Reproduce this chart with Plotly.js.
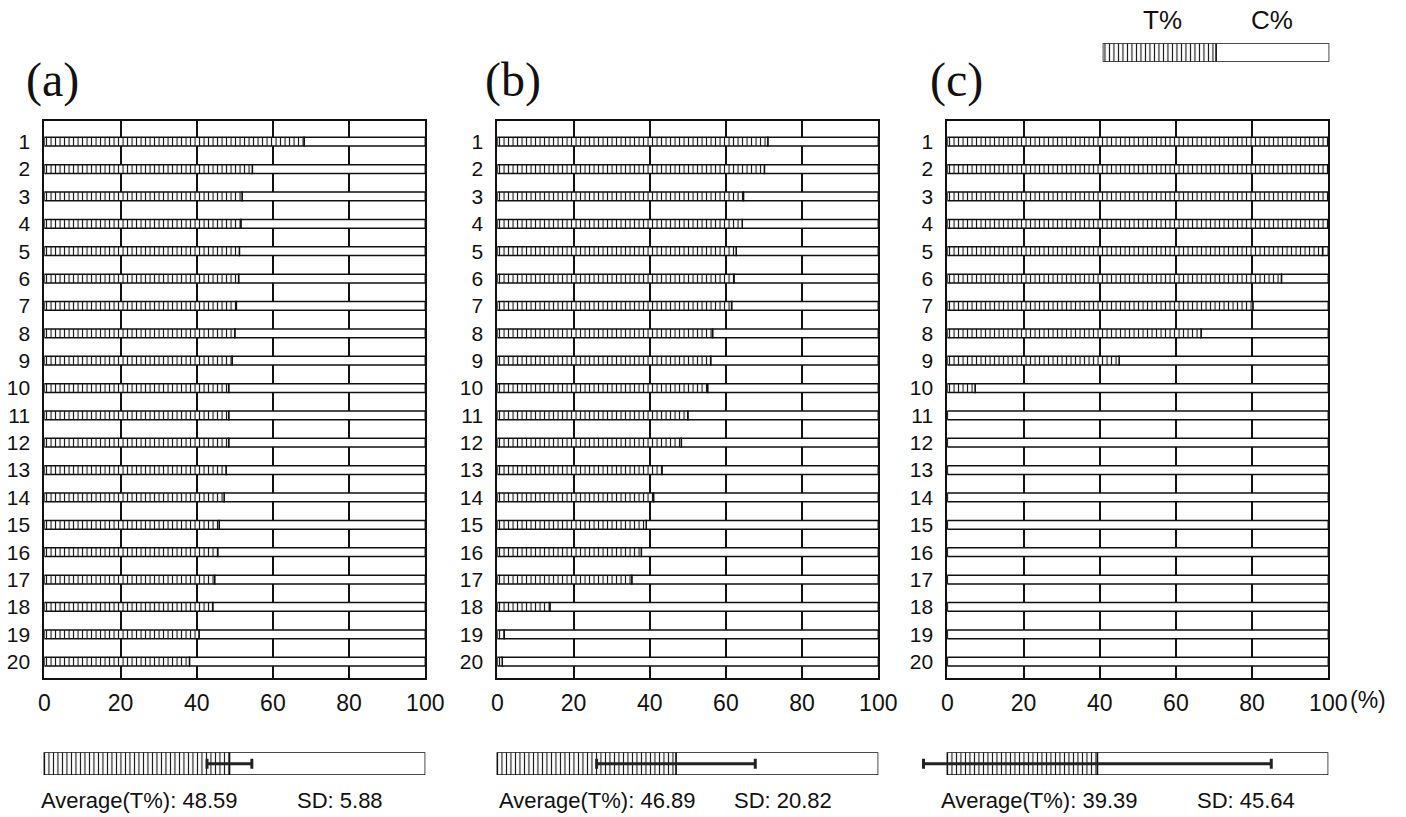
<!DOCTYPE html>
<html>
<head>
<meta charset="utf-8">
<script src="https://cdn.plot.ly/plotly-3.0.1.min.js"></script>
<style>
  html, body { margin: 0; padding: 0; background: #fff; }
  #chart { width: 1406px; height: 817px; }
</style>
</head>
<body>
<div id="chart"></div>
<script>
// ---------------- data ----------------
const rowNumbers = [1,2,3,4,5,6,7,8,9,10,11,12,13,14,15,16,17,18,19,20];
const tPctA = [68.2,54.6,51.9,51.6,51.2,51.0,50.4,50.0,49.3,48.4,48.4,48.4,47.7,47.2,45.9,45.5,44.7,44.2,40.6,38.1];
const tPctB = [71.0,70.1,64.6,64.3,62.7,62.1,61.5,56.5,56.0,55.2,50.0,48.3,43.2,41.0,39.1,37.8,35.3,13.8,1.8,1.3];
const tPctC = [100,100,100,100,98.5,87.7,80.2,66.6,45.1,7.3,0,0,0,0,0,0,0,0,0,0];
const averageT = [48.59, 46.89, 39.39];
const sdT = [5.88, 20.82, 45.64];
const panelLabels = ['(a)', '(b)', '(c)'];
const xTickVals = [0, 20, 40, 60, 80, 100];
const xTickText = ['0', '20', '40', '60', '80', '100'];
const unitLabel = '(%)';
const legendLabels = ['T%', 'C%'];
const legendShare = [50, 50];

// ---------------- layout helpers ----------------
const W = 1406, H = 817;
const px = v => v / W;
const py = v => 1 - v / H;
const panelX0 = [44.3, 497.3, 947.3];   // pixel of 0%
const panelSpan = 381;                   // pixels per 100%
const titleCenters = [52, 513, 956];
const avgTextX = [39, 497, 939];
const sdTextX = [295, 732, 1195];
const plotTop = 121, plotBottom = 678.3;
const sumTop = 752.3, sumBottom = 775;
const sumExtra = 10;                     // extra units left of 0 in summary axes

const tSeries = [tPctA, tPctB, tPctC];
const cSeries = tSeries.map(arr => arr.map(v => 100 - v));

const pattern = {shape: '|', size: 4.5, solidity: 0.25, fgcolor: '#111', bgcolor: '#fff'};
const outline = {color: '#111', width: 1.5};
const font = 'Liberation Sans, Arial, sans-serif';

const traces = [];
const layout = {
  width: W, height: H,
  margin: {l: 0, r: 0, t: 0, b: 0},
  paper_bgcolor: '#fff', plot_bgcolor: 'rgba(0,0,0,0)',
  barmode: 'overlay',
  showlegend: false,
  font: {family: font, color: '#111'},
  annotations: []
};

for (let p = 0; p < 3; p++) {
  const ax = p + 1;
  const xk = ax === 1 ? 'x' : 'x' + ax;
  const yk = ax === 1 ? 'y' : 'y' + ax;
  // C% part (remainder)
  traces.push({
    type: 'bar', orientation: 'h', xaxis: xk, yaxis: yk,
    y: rowNumbers, x: cSeries[p], base: tSeries[p], width: 0.32,
    marker: {color: '#fff', line: outline}
  });
  // T% part
  traces.push({
    type: 'bar', orientation: 'h', xaxis: xk, yaxis: yk,
    y: rowNumbers, x: tSeries[p], base: 0, width: 0.32,
    marker: {color: '#fff', pattern: pattern, line: outline}
  });
  layout['xaxis' + (ax === 1 ? '' : ax)] = {
    domain: [px(panelX0[p]), px(panelX0[p] + panelSpan)],
    range: [0, 100], anchor: yk,
    tickmode: 'array', tickvals: xTickVals, ticktext: xTickText,
    showgrid: true, gridcolor: '#111', gridwidth: 2,
    showline: true, linecolor: '#111', linewidth: 2, mirror: true,
    zeroline: false, ticks: '', ticklabelstandoff: 3,
    tickfont: {size: 23, family: font, color: '#111'}
  };
  layout['yaxis' + (ax === 1 ? '' : ax)] = {
    domain: [py(plotBottom), py(plotTop)],
    range: [20.607, 0.244], anchor: xk,
    tickmode: 'array', tickvals: rowNumbers, ticktext: rowNumbers.map(String),
    showgrid: false, zeroline: false,
    showline: true, linecolor: '#111', linewidth: 2, mirror: true,
    ticks: '', ticklabelstandoff: 8,
    tickfont: {size: 21, family: font, color: '#111'}
  };
  layout.annotations.push({
    xref: 'paper', yref: 'paper', x: px(titleCenters[p]), y: py(80),
    xanchor: 'center', yanchor: 'middle', showarrow: false,
    text: panelLabels[p], font: {family: 'Liberation Serif, Times New Roman, serif', size: 48, color: '#111'}
  });

  // summary bar
  const sx = 'x' + (ax + 3), sy = 'y' + (ax + 3);
  traces.push({
    type: 'bar', orientation: 'h', xaxis: sx, yaxis: sy,
    y: [0], x: [100 - averageT[p]], base: [averageT[p]], width: 1,
    marker: {color: '#fff', line: outline}
  });
  traces.push({
    type: 'bar', orientation: 'h', xaxis: sx, yaxis: sy,
    y: [0], x: [averageT[p]], base: [0], width: 1,
    marker: {color: '#fff', pattern: pattern, line: outline},
    error_x: {type: 'data', array: [sdT[p]], symmetric: true, color: '#222', thickness: 3, width: 5}
  });
  layout['xaxis' + (ax + 3)] = {
    domain: [px(panelX0[p] - panelSpan * sumExtra / 100), px(panelX0[p] + panelSpan)],
    range: [-sumExtra, 100], anchor: sy, visible: false, fixedrange: true
  };
  layout['yaxis' + (ax + 3)] = {
    domain: [py(sumBottom), py(sumTop)],
    range: [-0.5, 0.5], anchor: sx, visible: false
  };
  layout.annotations.push({
    xref: 'paper', yref: 'paper', x: px(avgTextX[p]), y: py(800),
    xanchor: 'left', yanchor: 'middle', showarrow: false,
    text: 'Average(T%): ' + averageT[p].toFixed(2), font: {size: 22, family: font, color: '#111'}
  });
  layout.annotations.push({
    xref: 'paper', yref: 'paper', x: px(sdTextX[p]), y: py(800),
    xanchor: 'left', yanchor: 'middle', showarrow: false,
    text: 'SD: ' + sdT[p].toFixed(2), font: {size: 22, family: font, color: '#111'}
  });
}

// "(%)" unit after the last tick of panel (c)
layout.annotations.push({
  xref: 'paper', yref: 'paper', x: px(1348), y: py(700),
  xanchor: 'left', yanchor: 'middle', showarrow: false,
  text: unitLabel, font: {size: 23, family: font, color: '#111'}
});

// legend key bar
traces.push({
  type: 'bar', orientation: 'h', xaxis: 'x7', yaxis: 'y7',
  y: [0], x: [legendShare[1]], base: [legendShare[0]], width: 1,
  marker: {color: '#fff', line: outline}
});
traces.push({
  type: 'bar', orientation: 'h', xaxis: 'x7', yaxis: 'y7',
  y: [0], x: [legendShare[0]], base: [0], width: 1,
  marker: {color: '#fff', pattern: pattern, line: outline}
});
layout.xaxis7 = {domain: [px(1102.7), px(1329.3)], range: [0, 100], anchor: 'y7', visible: false};
layout.yaxis7 = {domain: [py(61.7), py(43.3)], range: [-0.5, 0.5], anchor: 'x7', visible: false};
layout.annotations.push({
  xref: 'paper', yref: 'paper', x: px(1162), y: py(20),
  xanchor: 'center', yanchor: 'middle', showarrow: false,
  text: legendLabels[0], font: {size: 26, family: font, color: '#111'}
});
layout.annotations.push({
  xref: 'paper', yref: 'paper', x: px(1272), y: py(20),
  xanchor: 'center', yanchor: 'middle', showarrow: false,
  text: legendLabels[1], font: {size: 26, family: font, color: '#111'}
});

Plotly.newPlot('chart', traces, layout, {staticPlot: true, displayModeBar: false});
</script>
</body>
</html>
